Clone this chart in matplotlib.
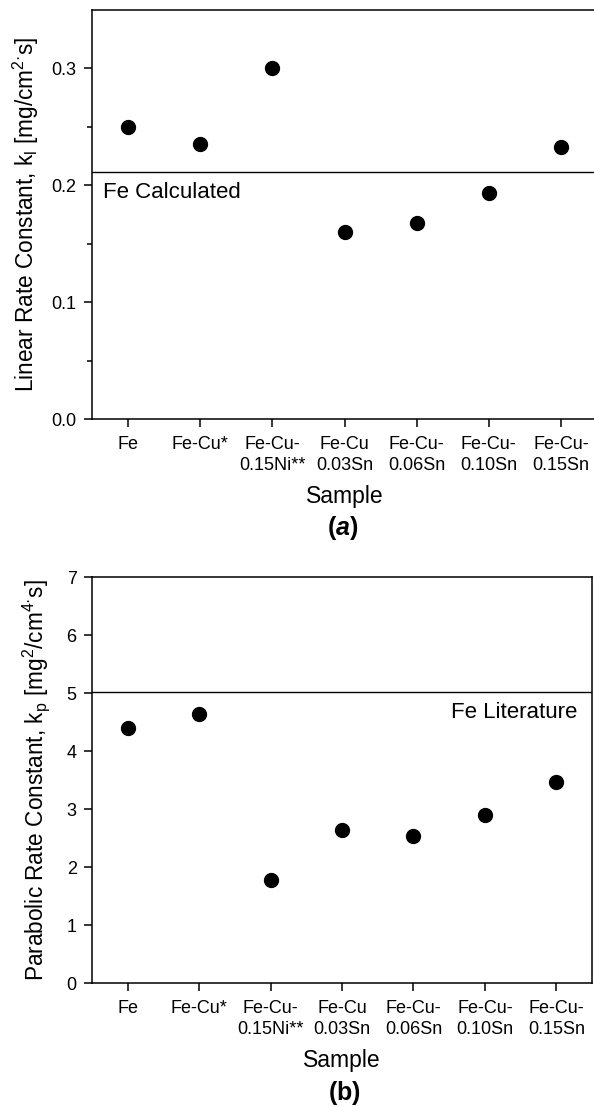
import matplotlib
matplotlib.use("Agg")
import matplotlib.pyplot as plt

plt.rcParams['font.family'] = ['Liberation Sans', 'DejaVu Sans']
plt.rcParams['mathtext.fontset'] = 'custom'
plt.rcParams['mathtext.rm'] = 'Liberation Sans'
plt.rcParams['mathtext.it'] = 'Liberation Sans:italic'
plt.rcParams['mathtext.bf'] = 'Liberation Sans:bold'
plt.rcParams['mathtext.bfit'] = 'Liberation Sans:bold:italic'

# sample names on the x axis
samples = ["Fe", "Fe-Cu*", "Fe-Cu-\n0.15Ni**", "Fe-Cu\n0.03Sn",
           "Fe-Cu-\n0.06Sn", "Fe-Cu-\n0.10Sn", "Fe-Cu-\n0.15Sn"]

# linear rate constant k_l [mg/cm^2 s]
k_linear = [0.250, 0.235, 0.300, 0.160, 0.168, 0.193, 0.233]
fe_calculated = 0.211

# parabolic rate constant k_p [mg^2/cm^4 s]
k_parabolic = [4.40, 4.63, 1.78, 2.64, 2.53, 2.90, 3.47]
fe_literature = 5.02

x = list(range(len(samples)))

fig = plt.figure(figsize=(5.94, 11.07), dpi=100)
ax1 = fig.add_axes([92/594, 1-419/1107, 505/594, 409/1107])
ax2 = fig.add_axes([92/594, 1-983/1107, 500/594, 406/1107])

for ax in (ax1, ax2):
    for s in ax.spines.values():
        s.set_linewidth(1.1)
    ax.set_xlim(-0.5, 6.5)
    ax.set_xticks(x)
    ax.set_xticklabels(samples, fontsize=13, linespacing=1.3)
    ax.tick_params(axis='both', direction='out', length=6, width=1.1, labelsize=13, pad=5)
    ax.tick_params(axis='x', pad=6)
    ax.tick_params(axis='y', which='minor', direction='out', length=3.5, width=1.1)
    ax.set_xlabel("Sample", fontsize=16.5, labelpad=8)

# (a) linear
ax1.scatter(x, k_linear, s=100, color='black', zorder=3)
ax1.axhline(fe_calculated, color='black', lw=1.0)
ax1.text(-0.35, fe_calculated - 0.017, "Fe Calculated", fontsize=16, ha='left', va='center')
ax1.set_ylim(0, 0.35)
ax1.set_yticks([0.0, 0.1, 0.2, 0.3])
ax1.set_yticklabels(["0.0", "0.1", "0.2", "0.3"])
ax1.set_yticks([0.05, 0.15, 0.25], minor=True)
ax1.set_ylabel(r"Linear Rate Constant, k$_{\mathrm{l}}$ [mg/cm$^{2·}$s]", fontsize=16.3)
ax1.yaxis.set_label_coords(-0.101, 0.5)

# (b) parabolic
ax2.scatter(x, k_parabolic, s=100, color='black', zorder=3)
ax2.axhline(fe_literature, color='black', lw=1.0)
ax2.text(6.3, 4.67, "Fe Literature", fontsize=16, ha='right', va='center')
ax2.set_ylim(0, 7)
ax2.set_yticks(range(8))
ax2.set_ylabel(r"Parabolic Rate Constant, k$_{\mathrm{p}}$ [mg$^{2}$/cm$^{4·}$s]", fontsize=16.3)
ax2.yaxis.set_label_coords(-0.08, 0.5)

fig.text(343/594, 1-528/1107, r"$\mathbf{(}\mathbfit{a}\mathbf{)}$", fontsize=18, ha='center', va='center')
fig.text(344/594, 1-1093/1107, r"$\mathbf{(b)}$", fontsize=18, ha='center', va='center')

fig.savefig("out.png", dpi=100)
